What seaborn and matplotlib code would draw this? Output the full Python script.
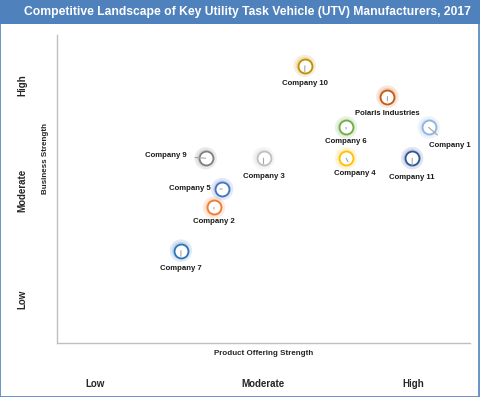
import matplotlib
matplotlib.use("Agg")
import matplotlib.pyplot as plt
import seaborn as sns
import pandas as pd
from matplotlib.patches import Rectangle

companies = ["Company 10", "Polaris Industries", "Company 1", "Company 6", "Company 4",
             "Company 11", "Company 9", "Company 3", "Company 5", "Company 2", "Company 7"]
product_strength = [6.0, 8.0, 9.0, 7.0, 7.0, 8.6, 3.6, 5.0, 4.0, 3.8, 3.0]
business_strength = [9.0, 8.0, 7.0, 7.0, 6.0, 6.0, 6.0, 6.0, 5.0, 4.4, 3.0]
colors = ["#BF9000", "#C55A11", "#8DB4E2", "#70AD47", "#FFC000",
          "#2F5597", "#7F7F7F", "#BFBFBF", "#4472C4", "#ED7D31", "#2E75B6"]
level_labels = ["Low", "Moderate", "High"]

# label offsets in points (dx, dy) relative to the marker
label_offsets = [(0, -13), (0, -12), (15, -13), (0, -10), (6, -11),
                 (0, -14), (-29, 2), (0, -13), (-23, 0), (0, -10), (0, -13)]

df = pd.DataFrame({"company": companies, "x": product_strength, "y": business_strength})

sns.set_style("white")
plt.rcParams["font.family"] = ["Liberation Sans", "DejaVu Sans"]

fig = plt.figure(figsize=(4.8, 3.97), dpi=100)
ax = fig.add_axes([57 / 480, 54 / 397, 413 / 480, 308 / 397])

palette = dict(zip(companies, colors))

# soft glow behind each marker
sns.scatterplot(data=df, x="x", y="y", hue="company", palette=palette, s=260,
                alpha=0.15, linewidth=0, legend=False, ax=ax, zorder=2)
sns.scatterplot(data=df, x="x", y="y", hue="company", palette=palette, s=160,
                alpha=0.18, linewidth=0, legend=False, ax=ax, zorder=2)
# hollow ring
for i, row in df.iterrows():
    ax.scatter(row["x"], row["y"], s=100, facecolor="white", edgecolor=colors[i],
               linewidth=1.3, zorder=3)

for i, row in df.iterrows():
    dx, dy = label_offsets[i]
    ax.annotate(row["company"], xy=(row["x"], row["y"]), xytext=(dx, dy),
                textcoords="offset points", ha="center", va="center",
                fontsize=5.6, fontweight="bold", color="#1a1a1a", zorder=5,
                arrowprops=dict(arrowstyle="-", color="#A6A6A6", lw=0.8,
                                shrinkA=4, shrinkB=0))

ax.set_xlim(0, 10)
ax.set_ylim(0, 10)
ax.set_xticks([0.92, 4.99, 8.62])
ax.set_xticklabels(level_labels, fontsize=7, fontweight="bold")
ax.set_yticks([1.43, 4.97, 8.36])
ax.set_yticklabels(level_labels, fontsize=7, fontweight="bold", rotation=90, va="center")
ax.tick_params(axis="x", length=0, pad=26)
ax.tick_params(axis="y", length=0, pad=21)
ax.set_xlabel("Product Offering Strength", fontsize=5.8, fontweight="bold")
ax.xaxis.set_label_coords(0.5, -0.022)
ax.set_ylabel("Business Strength", fontsize=5.8, fontweight="bold")
ax.yaxis.set_label_coords(-0.02, 0.6)

for side in ["top", "right"]:
    ax.spines[side].set_visible(False)
for side in ["left", "bottom"]:
    ax.spines[side].set_color("#BFBFBF")
    ax.spines[side].set_linewidth(1.0)

# title bar and frame
fig.patches.append(Rectangle((0, 1 - 24 / 397), 1, 24 / 397, transform=fig.transFigure,
                             facecolor="#4F81BD", edgecolor="none", zorder=0))
fig.patches.append(Rectangle((0.001, 0.001), 0.997, 0.997, transform=fig.transFigure,
                             facecolor="none", edgecolor="#4F81BD", lw=1.2, zorder=1))
fig.text(247 / 480, 1 - 12 / 397, "Competitive Landscape of Key Utility Task Vehicle (UTV) Manufacturers, 2017",
         color="white", fontsize=8.7, fontweight="bold", ha="center", va="center")

fig.savefig("out.png", dpi=100)
